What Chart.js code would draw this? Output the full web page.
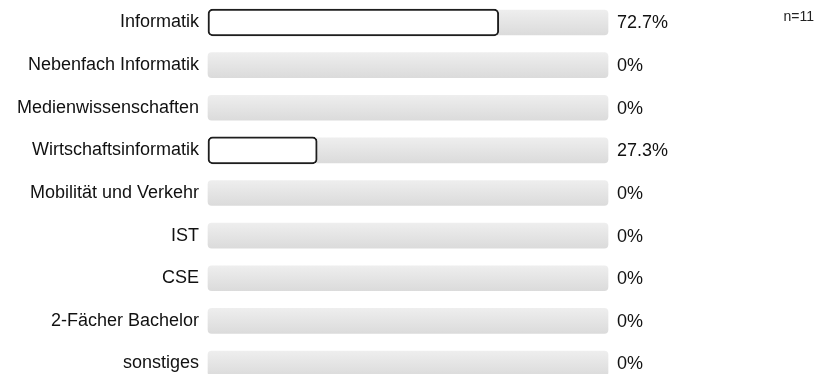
<!DOCTYPE html>
<html>
<head>
<meta charset="utf-8">
<script src="https://cdn.jsdelivr.net/npm/chart.js@4/dist/chart.umd.min.js"></script>
<style>
  html, body { margin: 0; padding: 0; background: #fff; overflow: hidden; }
  canvas { display: block; }
</style>
</head>
<body>
<canvas id="myChart" width="831" height="374"></canvas>
<script>
  // data
  const categories = [
    "Informatik",
    "Nebenfach Informatik",
    "Medienwissenschaften",
    "Wirtschaftsinformatik",
    "Mobilität und Verkehr",
    "IST",
    "CSE",
    "2-Fächer Bachelor",
    "sonstiges",
  ];
  const percentages = [72.7, 0, 0, 27.3, 0, 0, 0, 0, 0];
  const trackValues = [100, 100, 100, 100, 100, 100, 100, 100, 100];
  const sampleSize = 11;

  const fontFamily = '"Liberation Sans", Arial, Helvetica, sans-serif';

  function trackColor(c) {
    const chart = c.chart;
    const y = chart.scales && chart.scales.y;
    if (!chart.chartArea || !y) return "#e4e4e4";
    const cy = y.getPixelForValue(c.dataIndex);
    const g = chart.ctx.createLinearGradient(0, cy - 12.5, 0, cy + 12.5);
    g.addColorStop(0, "#eeeeee");
    g.addColorStop(1, "#dbdbdb");
    return g;
  }

  const valueLabels = {
    id: "valueLabels",
    afterDatasetsDraw(chart) {
      const ctx = chart.ctx;
      const y = chart.scales.y;
      ctx.save();
      ctx.fillStyle = "#111";
      ctx.font = "18px " + fontFamily;
      ctx.textBaseline = "middle";
      ctx.textAlign = "left";
      percentages.forEach((v, i) => {
        ctx.fillText(v + "%", chart.chartArea.right + 9, y.getPixelForValue(i) + 1);
      });
      ctx.font = "14px " + fontFamily;
      ctx.fillStyle = "#222";
      ctx.textAlign = "right";
      ctx.fillText("n=" + sampleSize, 814, 17);
      ctx.restore();
    },
  };

  const ctx = document.getElementById("myChart");
  const myChart = new Chart(ctx, {
    type: "bar",
    data: {
      labels: categories,
      datasets: [
        {
          data: percentages,
          backgroundColor: "#ffffff",
          borderColor: "#1e1e1e",
          borderWidth: 2,
          borderRadius: 5,
          borderSkipped: false,
          barThickness: 27,
          grouped: false,
          order: 1,
          clip: false,
        },
        {
          data: trackValues,
          backgroundColor: trackColor,
          borderWidth: 0,
          borderRadius: 4,
          borderSkipped: false,
          barThickness: 25,
          grouped: false,
          order: 2,
          clip: false,
        },
      ],
    },
    options: {
      indexAxis: "y",
      responsive: false,
      animation: false,
      layout: {
        padding: { top: 22.5, bottom: 10.5, left: 0, right: 223 },
      },
      scales: {
        x: {
          display: false,
          min: 0,
          max: 100,
        },
        y: {
          offset: false,
          grid: { display: false, drawTicks: false },
          border: { display: false },
          ticks: {
            color: "#111",
            padding: 9,
            font: { size: 18, family: fontFamily },
          },
          afterFit(scale) {
            scale.width = 208;
            scale.paddingTop = 0;
            scale.paddingBottom = 0;
          },
        },
      },
      plugins: {
        legend: { display: false },
        tooltip: { enabled: false },
      },
    },
    plugins: [valueLabels],
  });
</script>
</body>
</html>
